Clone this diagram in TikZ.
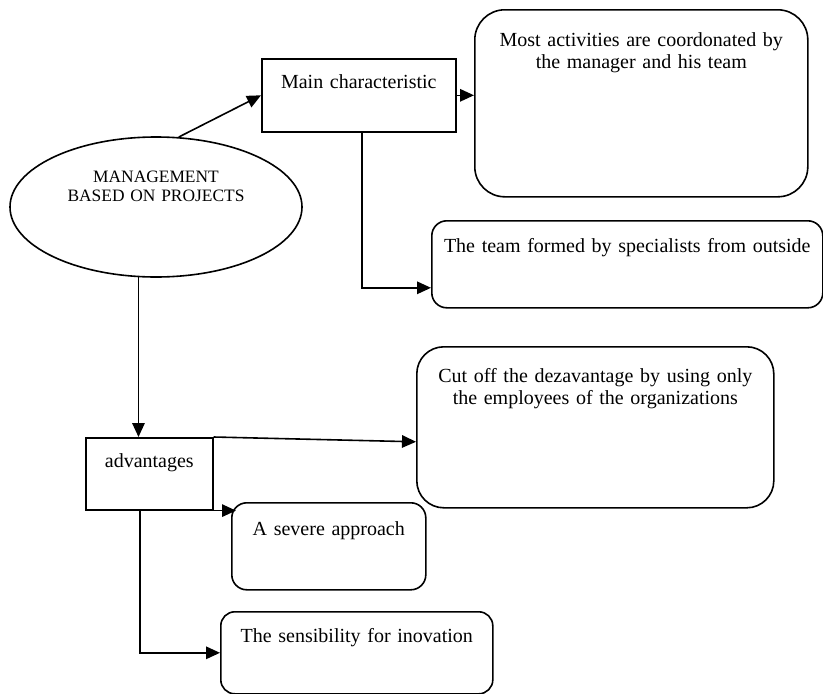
\documentclass[tikz,border=0pt]{standalone}
\usepackage{fontspec}
\setmainfont{Liberation Serif}
\usetikzlibrary{arrows.meta,shapes.geometric}
\begin{document}
\begin{tikzpicture}[x=1pt, y=-1pt, line width=1.6pt,
  >={Triangle[length=14pt,width=12.5pt]},
  box/.style={draw, rectangle, inner sep=0pt, anchor=north west, align=center,
    font=\fontsize{20pt}{22pt}\selectfont},
  rbox/.style={box, rounded corners=#1},
  oval/.style={draw, ellipse, inner sep=0pt, minimum width=292pt, minimum height=140pt,
    align=center, font=\fontsize{17.4pt}{19.5pt}\selectfont}]
\useasboundingbox (0,0) rectangle (823,694);
% the ellipse
\node[oval, text width=200pt, text height=20pt, text depth=70pt] (mgmt) at (156,207) {MANAGEMENT\\BASED ON PROJECTS};
% upper branch
\node[box, text width=194pt, text height=30pt, text depth=43pt] (main) at (261,58) {Main characteristic};
\node[rbox=30pt, text width=333pt, text height=37pt, text depth=150pt] (coord) at (474,9) {Most activities are coordonated by\\the manager and his team};
\node[rbox=15pt, text width=391pt, text height=32pt, text depth=55pt] (team) at (431,220) {The team formed by specialists from outside};
% lower branch
\node[box, text width=127pt, text height=30pt, text depth=42pt] (adv) at (85,437) {advantages};
\node[rbox=27pt, text width=357pt, text height=36pt, text depth=125pt] (cutoff) at (416,346) {Cut off the dezavantage by using only\\the employees of the organizations};
\node[rbox=15pt, text width=194pt, text height=33pt, text depth=54pt] (severe) at (231,502) {A severe approach};
\node[rbox=14pt, text width=272pt, text height=31pt, text depth=51pt] (inov) at (220,611) {The sensibility for inovation};
% connectors
\draw[->] (mgmt.72) -- (main.west);
\draw[->] (main.east) -- (main.east -| coord.west);
\draw[->] ([xshift=3pt]main.south) |- ([yshift=-23.5pt]team.west);
\draw[->] (mgmt.256) -- (mgmt.256 |- adv.north);
\draw[->] (adv.north east) -- ([yshift=-14.5pt]cutoff.west);
\draw[->] (adv.south east) -- ([xshift=5pt]adv.south east -| severe.west);
\draw[->] ([xshift=-9.5pt]adv.south) |- (inov.west);
\end{tikzpicture}
\end{document}
